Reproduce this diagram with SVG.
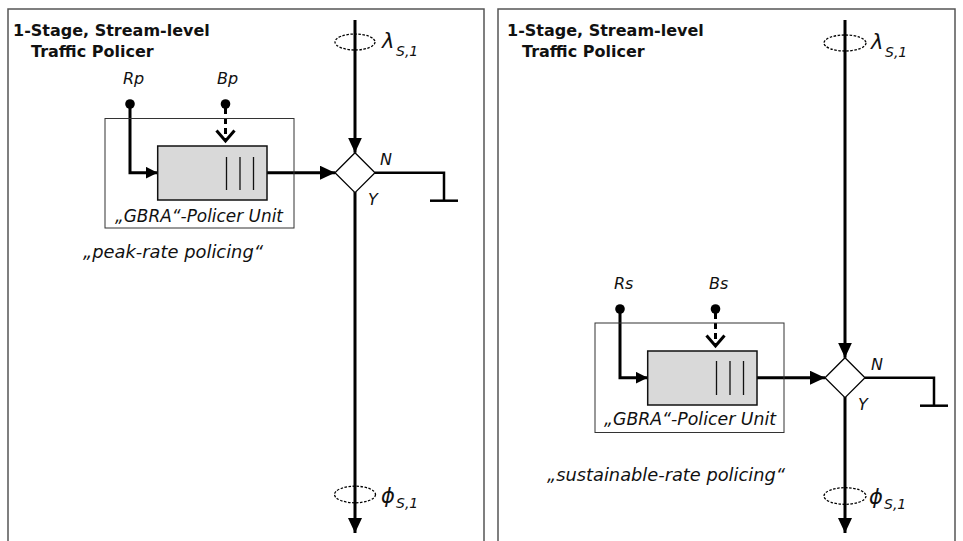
<svg xmlns="http://www.w3.org/2000/svg" width="963" height="541" viewBox="0 0 963 541">
  <style>
    .frame { fill: #fff; stroke: #555; stroke-width: 1.5; }
    .title { font-family: "DejaVu Sans", "Liberation Sans", sans-serif; font-weight: bold; font-size: 16px; fill: #111; }
    .lbl { font-family: "DejaVu Sans", "Liberation Sans", sans-serif; font-style: italic; font-size: 16px; fill: #111; }
    .big { font-family: "DejaVu Sans", "Liberation Sans", sans-serif; font-style: italic; font-size: 17px; fill: #111; }
    .greek { font-family: "DejaVu Sans", "Noto Sans", sans-serif; font-style: italic; font-size: 21px; fill: #111; }
    .sub { font-family: "DejaVu Sans", "Liberation Sans", sans-serif; font-style: italic; font-size: 14px; fill: #111; }
    .unit { fill: none; stroke: #333; stroke-width: 1; }
    .queue { fill: #d9d9d9; stroke: #111; stroke-width: 1.5; }
    .bar { stroke: #111; stroke-width: 1.3; }
    .thick { fill: none; stroke: #000; stroke-width: 3; }
    .mid { fill: none; stroke: #000; stroke-width: 2.5; }
    .chev { fill: none; stroke: #000; stroke-width: 3; }
    .dash { fill: none; stroke: #000; stroke-width: 3; stroke-dasharray: 6 4; }
    .dot { fill: #000; }
    .diamond { fill: #fff; stroke: #000; stroke-width: 1.3; }
    .ell { fill: none; stroke: #000; stroke-width: 1.3; stroke-dasharray: 2.5 1.5; }
  </style>
  <defs>
    <marker id="arrow" markerUnits="userSpaceOnUse" markerWidth="15" markerHeight="14" refX="15" refY="7" orient="auto">
      <path d="M0,0 L15,7 L0,14 z" fill="#000"/>
    </marker>
    <marker id="arrowS" markerUnits="userSpaceOnUse" markerWidth="12" markerHeight="12" refX="12" refY="6" orient="auto">
      <path d="M0,0 L12,6 L0,12 z" fill="#000"/>
    </marker>
  </defs>

  <!-- Panel frames -->
  <g id="panel-left">
    <rect class="frame" x="8" y="9" width="476" height="545"/>
    <text class="title" x="13" y="36">1-Stage, Stream-level</text>
    <text class="title" x="31" y="57">Traffic Policer</text>
  </g>
  <g id="panel-right">
    <rect class="frame" x="498" y="9" width="457" height="545"/>
    <text class="title" x="507" y="36">1-Stage, Stream-level</text>
    <text class="title" x="522" y="57">Traffic Policer</text>
  </g>

  <!-- Connectors -->
  <g id="connectors">
    <!-- left panel -->
    <line class="thick" x1="355" y1="20" x2="355" y2="152.7" marker-end="url(#arrow)"/>
    <line class="thick" x1="355" y1="192" x2="355" y2="533" marker-end="url(#arrow)"/>
    <line class="thick" x1="267" y1="172.7" x2="335" y2="172.7" marker-end="url(#arrow)"/>
    <path class="thick" d="M130,104 V172.7 H157.7" marker-end="url(#arrowS)"/>
    <line class="dash" x1="225.5" y1="108" x2="225.5" y2="139"/>
    <polyline class="chev" points="216.5,130.5 225.5,141 234.5,130.5"/>
    <polyline class="mid" points="375,172.7 444,172.7 444,200.7"/>
    <line class="mid" x1="430" y1="200.7" x2="458" y2="200.7"/>
    <!-- right panel -->
    <line class="thick" x1="845" y1="20" x2="845" y2="357.7" marker-end="url(#arrow)"/>
    <line class="thick" x1="845" y1="397" x2="845" y2="533" marker-end="url(#arrow)"/>
    <line class="thick" x1="757" y1="377.7" x2="825" y2="377.7" marker-end="url(#arrow)"/>
    <path class="thick" d="M620,309 V377.7 H647.7" marker-end="url(#arrowS)"/>
    <line class="dash" x1="715.5" y1="313" x2="715.5" y2="344"/>
    <polyline class="chev" points="706.5,335.5 715.5,346 724.5,335.5"/>
    <polyline class="mid" points="865,377.7 934,377.7 934,405.7"/>
    <line class="mid" x1="920" y1="405.7" x2="948" y2="405.7"/>
  </g>

  <!-- Left panel nodes -->
  <g id="rp-input">
    <text class="lbl" x="123" y="84">Rp</text>
    <circle class="dot" cx="130" cy="104" r="4.8"/>
  </g>
  <g id="bp-input">
    <text class="lbl" x="217" y="84">Bp</text>
    <circle class="dot" cx="225.5" cy="104" r="4.8"/>
  </g>
  <g id="gbra-unit-left">
    <rect class="unit" x="105" y="118.5" width="189" height="109.5"/>
    <rect class="queue" x="157.7" y="146" width="109.3" height="54"/>
    <line class="bar" x1="226.5" y1="157" x2="226.5" y2="190"/>
    <line class="bar" x1="240" y1="157" x2="240" y2="190"/>
    <line class="bar" x1="253.5" y1="157" x2="253.5" y2="190"/>
    <text class="big" x="115" y="221.5" textLength="168" lengthAdjust="spacingAndGlyphs">„GBRA“-Policer Unit</text>
  </g>
  <g id="decision-left">
    <polygon class="diamond" points="355,152.7 375,172.7 355,192.7 335,172.7"/>
    <text class="lbl" x="380" y="165">N</text>
    <text class="lbl" x="368" y="205">Y</text>
  </g>
  <g id="lambda-left">
    <ellipse class="ell" cx="355" cy="42" rx="20" ry="8"/>
    <text class="greek" x="382" y="48">λ</text>
    <text class="sub" x="396" y="56">S,1</text>
  </g>
  <g id="phi-left">
    <ellipse class="ell" cx="355" cy="494.5" rx="20.5" ry="8.3"/>
    <text class="greek" x="381" y="503">ϕ</text>
    <text class="sub" x="396" y="508">S,1</text>
  </g>
  <text class="big" x="83" y="258" textLength="180" lengthAdjust="spacingAndGlyphs">„peak-rate policing“</text>

  <!-- Right panel nodes -->
  <g id="rs-input">
    <text class="lbl" x="614" y="289">Rs</text>
    <circle class="dot" cx="620" cy="309" r="4.8"/>
  </g>
  <g id="bs-input">
    <text class="lbl" x="709" y="289">Bs</text>
    <circle class="dot" cx="715.5" cy="309" r="4.8"/>
  </g>
  <g id="gbra-unit-right">
    <rect class="unit" x="595" y="323" width="189" height="109.5"/>
    <rect class="queue" x="647.7" y="351" width="109.3" height="54"/>
    <line class="bar" x1="716.5" y1="361" x2="716.5" y2="395"/>
    <line class="bar" x1="730" y1="361" x2="730" y2="395"/>
    <line class="bar" x1="743.5" y1="361" x2="743.5" y2="395"/>
    <text class="big" x="604" y="425" textLength="172" lengthAdjust="spacingAndGlyphs">„GBRA“-Policer Unit</text>
  </g>
  <g id="decision-right">
    <polygon class="diamond" points="845,357.7 865,377.7 845,397.7 825,377.7"/>
    <text class="lbl" x="871" y="370">N</text>
    <text class="lbl" x="858" y="410">Y</text>
  </g>
  <g id="lambda-right">
    <ellipse class="ell" cx="845" cy="43" rx="21" ry="8"/>
    <text class="greek" x="871" y="49">λ</text>
    <text class="sub" x="885" y="57">S,1</text>
  </g>
  <g id="phi-right">
    <ellipse class="ell" cx="845" cy="496" rx="21" ry="8.3"/>
    <text class="greek" x="869" y="504">ϕ</text>
    <text class="sub" x="884" y="509">S,1</text>
  </g>
  <text class="big" x="547" y="481" textLength="238" lengthAdjust="spacingAndGlyphs">„sustainable-rate policing“</text>
</svg>
